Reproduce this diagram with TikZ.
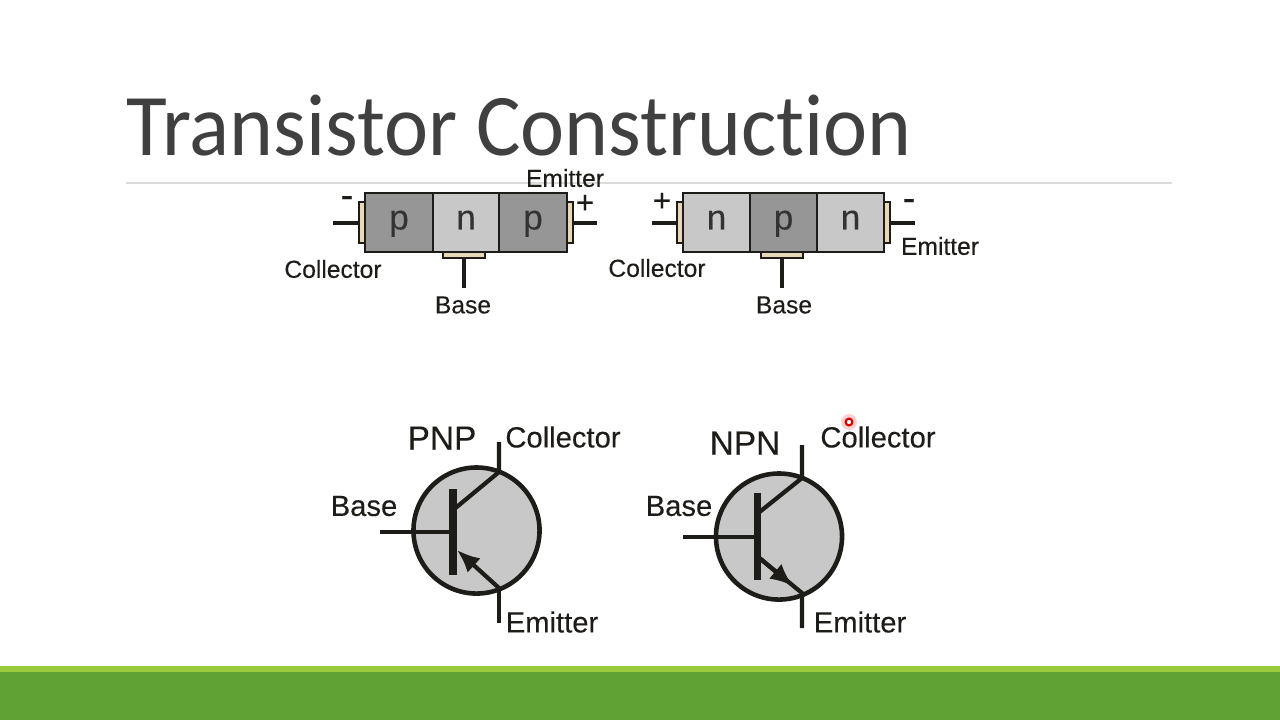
\documentclass[tikz,border=0pt]{standalone}
\usepackage{fontspec}
\setmainfont[FakeBold=0.2]{Liberation Sans}
\newfontfamily\titlefont[Ligatures=NoCommon,FakeStretch=0.95]{Carlito}
\usepackage{xcolor}
\definecolor{mtitle}{HTML}{404040}
\definecolor{mink}{HTML}{1E1C18}
\definecolor{mrule}{HTML}{DCDCDC}
\definecolor{mdark}{HTML}{969696}
\definecolor{mlight}{HTML}{C8C8C8}
\definecolor{mtab}{HTML}{E6D8B8}
\definecolor{mbar}{HTML}{60A234}
\definecolor{mbarl}{HTML}{9ACB3C}
\usetikzlibrary{arrows.meta,calc}
\tikzstyle{l2}=[line width=1.2pt, color=mink]
\tikzstyle{lab}=[inner sep=0pt, text=mink, font=\fontsize{7}{8}\selectfont]
\tikzstyle{labl}=[lab, font=\fontsize{8.3}{9}\selectfont]
\tikzstyle{sign}=[lab, font=\fontsize{9}{9}\selectfont]
\tikzstyle{minus}=[lab, font=\fontsize{11}{11}\selectfont]
\tikzstyle{region}=[draw=mink, line width=0.7pt, minimum height=0.59cm, inner sep=0pt, text=black!80, font=\fontsize{10}{11}\selectfont, text height=1.3ex, text depth=0.55ex]
\tikzstyle{pdoped}=[region, fill=mdark]
\tikzstyle{ndoped}=[region, fill=mlight]
\tikzstyle{tabv}=[draw=mink, line width=0.7pt, fill=mtab, minimum width=0.06cm, minimum height=0.41cm, inner sep=0pt]
\tikzstyle{tabh}=[draw=mink, line width=0.7pt, fill=mtab, minimum width=0.42cm, minimum height=0.06cm, inner sep=0pt]
\tikzstyle{disc}=[circle, draw=mink, line width=1.3pt, fill=mlight, minimum size=1.26cm, inner sep=0pt]
\tikzstyle{barv}=[line width=2pt, color=mink]
\tikzstyle{emit}=[l2, -{Latex[length=6.5pt,width=5.5pt]}]
\begin{document}
\begin{tikzpicture}[x=0.01cm, y=-0.01cm]
    \useasboundingbox (0,0) rectangle (1280,720);
    \fill[white] (0,0) rectangle (1280,720);

    % title and footer
    \coordinate (rulea) at (126,183);
    \coordinate (ruleb) at (1172,183);
    \draw[mrule, line width=0.35pt] (rulea) -- (ruleb);
    \node (title) [anchor=base west, inner sep=0pt, text depth=0pt, text=mtitle, font=\titlefont\fontsize{25}{28}\selectfont] at (126,155) {Transistor Construction};
    \fill[mbarl] (0,666) rectangle (1280,672);
    \fill[mbar] (0,672) rectangle (1280,720);

    % pnp block
    \begin{scope}
        \node (r1) [pdoped, minimum width=0.68cm] at (399,222.5) {p};
        \node (r2) [ndoped, minimum width=0.66cm] at (466,222.5) {n};
        \node (r3) [pdoped, minimum width=0.68cm] at (533,222.5) {p};
        \node (t1) [tabv] at (362,222.5) {};
        \node (t2) [tabv] at (570,222.5) {};
        \node (t3) [tabh] at (464,255) {};
        \coordinate (c1) at (333,223);
        \coordinate (c2) at (597,223);
        \coordinate (c3) at (464,288);
        \draw[l2] (t1.west |- c1) -- (c1);
        \draw[l2] (t2.east |- c2) -- (c2);
        \draw[l2] (t3.south) -- (c3);
        \node (n1) [minus] at (347,202) {-};
        \node (n2) [sign] at (585,204) {+};
        \node (n3) [lab] at (565,178) {Emitter};
        \node (n4) [lab] at (333,269) {Collector};
        \node (n5) [lab] at (463,305) {Base};
    \end{scope}

    % npn block
    \begin{scope}
        \node (s1) [ndoped, minimum width=0.67cm] at (716.5,222.5) {n};
        \node (s2) [pdoped, minimum width=0.67cm] at (783.5,222.5) {p};
        \node (s3) [ndoped, minimum width=0.67cm] at (850.5,222.5) {n};
        \node (u1) [tabv] at (680,222.5) {};
        \node (u2) [tabv] at (887,222.5) {};
        \node (u3) [tabh] at (782,255) {};
        \coordinate (d1) at (652,223);
        \coordinate (d2) at (915,223);
        \coordinate (d3) at (782,288);
        \draw[l2] (u1.west |- d1) -- (d1);
        \draw[l2] (u2.east |- d2) -- (d2);
        \draw[l2] (u3.south) -- (d3);
        \node (m1) [sign] at (662,202) {+};
        \node (m2) [minus] at (909,205) {-};
        \node (m3) [lab] at (940,246) {Emitter};
        \node (m4) [lab] at (657,268) {Collector};
        \node (m5) [lab] at (784,305) {Base};
    \end{scope}

    % pnp symbol
    \begin{scope}
        \node (q1) [disc] at (476.5,530.5) {};
        \coordinate (qc) at (499,472);
        \coordinate (qct) at (499,442);
        \coordinate (qe) at (499,588);
        \coordinate (qet) at (499,623);
        \coordinate (qb) at (380,532);
        \coordinate (qba) at (453,489);
        \coordinate (qbb) at (453,575);
        \coordinate (qbm) at (453,532);
        \coordinate (qi) at (453,510);
        \coordinate (qo) at (457,550);
        \draw[l2] (qct) -- (qc) -- (qi);
        \draw[l2] (qb) -- (qbm);
        \draw[l2] (qe) -- (qet);
        \draw[emit] (qe) -- (qo);
        \draw[barv] (qba) -- (qbb);
        \node (q2) [lab, font=\fontsize{9.5}{10}\selectfont] at (442,438) {PNP};
        \node (q3) [labl] at (563,437) {Collector};
        \node (q4) [labl] at (364,506) {Base};
        \node (q5) [labl] at (552,622) {Emitter};
    \end{scope}

    % npn symbol
    \begin{scope}
        \node (w1) [disc] at (779,536.5) {};
        \coordinate (wc) at (802,478);
        \coordinate (wct) at (802,445);
        \coordinate (we) at (802,593);
        \coordinate (wet) at (802,628);
        \coordinate (wb) at (683,537);
        \coordinate (wba) at (757,493);
        \coordinate (wbb) at (757,580);
        \coordinate (wbm) at (757,537);
        \coordinate (wi) at (757,514);
        \coordinate (wo) at (757,556);
        \coordinate (wt) at (793,586);
        \draw[l2] (wct) -- (wc) -- (wi);
        \draw[l2] (wb) -- (wbm);
        \draw[l2] (wo) -- (we) -- (wet);
        \draw[emit] (wo) -- (wt);
        \draw[barv] (wba) -- (wbb);
        \node (w2) [lab, font=\fontsize{9.5}{10}\selectfont] at (745,443) {NPN};
        \node (w3) [labl] at (878,437) {Collector};
        \node (w4) [labl] at (679,506) {Base};
        \node (w5) [labl] at (860,622) {Emitter};
    \end{scope}

    % pointer dot
    \fill[red!30, opacity=0.6] (849,422) circle (8);
    \draw[red!85!black, line width=0.6pt, fill=white] (849,422) circle (3.4);
\end{tikzpicture}
\end{document}
